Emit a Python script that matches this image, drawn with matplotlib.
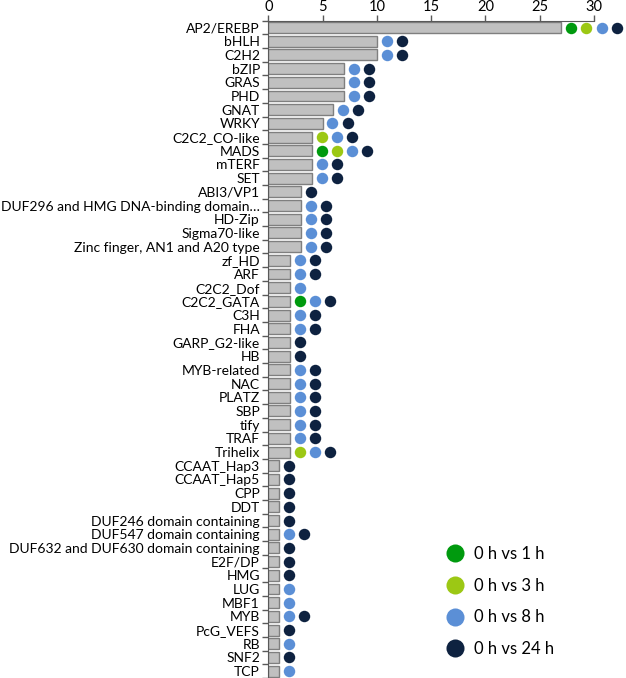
import numpy as np
import matplotlib
matplotlib.use("Agg")
import matplotlib.pyplot as plt
from matplotlib.lines import Line2D

plt.rcParams['font.family'] = ['Lato', 'DejaVu Sans']

# Transcription factor families and number of genes
families = [
    "AP2/EREBP", "bHLH", "C2H2", "bZIP", "GRAS", "PHD", "GNAT", "WRKY",
    "C2C2_CO-like", "MADS", "mTERF", "SET", "ABI3/VP1",
    "DUF296 and HMG DNA-binding domain\u2026", "HD-Zip", "Sigma70-like",
    "Zinc finger, AN1 and A20 type", "zf_HD", "ARF", "C2C2_Dof", "C2C2_GATA",
    "C3H", "FHA", "GARP_G2-like", "HB", "MYB-related", "NAC", "PLATZ", "SBP",
    "tify", "TRAF", "Trihelix", "CCAAT_Hap3", "CCAAT_Hap5", "CPP", "DDT",
    "DUF246 domain containing", "DUF547 domain containing",
    "DUF632 and DUF630 domain containing", "E2F/DP", "HMG", "LUG", "MBF1",
    "MYB", "PcG_VEFS", "RB", "SNF2", "TCP",
]
counts = [27, 10, 10, 7, 7, 7, 6, 5, 4, 4, 4, 4, 3, 3, 3, 3, 3,
          2, 2, 2, 2, 2, 2, 2, 2, 2, 2, 2, 2, 2, 2, 2,
          1, 1, 1, 1, 1, 1, 1, 1, 1, 1, 1, 1, 1, 1, 1, 1]

# presence of each family in the comparisons (1 = present)
vs_1h = [1, 0, 0, 0, 0, 0, 0, 0, 0, 1, 0, 0, 0, 0, 0, 0, 0,
         0, 0, 0, 1, 0, 0, 0, 0, 0, 0, 0, 0, 0, 0, 0,
         0, 0, 0, 0, 0, 0, 0, 0, 0, 0, 0, 0, 0, 0, 0, 0]
vs_3h = [1, 0, 0, 0, 0, 0, 0, 0, 1, 1, 0, 0, 0, 0, 0, 0, 0,
         0, 0, 0, 0, 0, 0, 0, 0, 0, 0, 0, 0, 0, 0, 1,
         0, 0, 0, 0, 0, 0, 0, 0, 0, 0, 0, 0, 0, 0, 0, 0]
vs_8h = [1, 1, 1, 1, 1, 1, 1, 1, 1, 1, 1, 1, 0, 1, 1, 1, 1,
         1, 1, 1, 1, 1, 1, 0, 0, 1, 1, 1, 1, 1, 1, 1,
         0, 0, 0, 0, 0, 1, 0, 0, 0, 1, 1, 1, 0, 1, 0, 1]
vs_24h = [1, 1, 1, 1, 1, 1, 1, 1, 1, 1, 1, 1, 1, 1, 1, 1, 1,
          1, 1, 0, 1, 1, 1, 1, 1, 1, 1, 1, 1, 1, 1, 1,
          1, 1, 1, 1, 1, 1, 1, 1, 1, 0, 0, 1, 1, 0, 1, 0]

series = [
    ("0 h vs 1 h", vs_1h, "#009a0e"),
    ("0 h vs 3 h", vs_3h, "#9cc814"),
    ("0 h vs 8 h", vs_8h, "#5b8fd6"),
    ("0 h vs 24 h", vs_24h, "#0e2240"),
]

fig = plt.figure(figsize=(6.26, 6.78), dpi=100)
ax = fig.add_axes([0.4286, 0.0, 0.5204, 0.9695])

y = np.arange(len(families))
ax.barh(y, counts, height=0.8, color="#c0c0c0", edgecolor="#7f7f7f", linewidth=1.0, zorder=2)

# dots placed one after another to the right of each bar
n_done = np.zeros(len(families))
for label, flags, color in series:
    flags = np.array(flags)
    idx = np.where(flags == 1)[0]
    xs = np.array(counts)[idx] + 0.9 + 1.4 * n_done[idx]
    ax.scatter(xs, y[idx], s=68, color=color, zorder=3, clip_on=False, linewidths=0)
    n_done[idx] += 1

ax.set_xlim(0, 30)
ax.set_ylim(len(families) - 0.5, -0.5)
ax.xaxis.tick_top()
ax.set_xticks([0, 5, 10, 15, 20, 25, 30])
ax.tick_params(axis="x", direction="out", length=4, width=1, colors="#595959",
               labelcolor="black", labelsize=10.5, pad=1)
ax.set_yticks(y)
ax.set_yticklabels(families, fontsize=10)
ax.set_yticks(np.arange(len(families) + 1) - 0.5, minor=True)
ax.tick_params(axis="y", which="major", length=0, pad=6)
ax.tick_params(axis="y", which="minor", length=4, width=1, color="#595959")

for side in ["right", "bottom"]:
    ax.spines[side].set_visible(False)
ax.spines["left"].set_color("#595959")
ax.spines["top"].set_color("#595959")

handles = [Line2D([], [], marker="o", linestyle="none", markersize=13,
                  markerfacecolor=c, markeredgewidth=0) for _, _, c in series]
fig.legend(handles, [s[0] for s in series], loc="upper left",
           bbox_to_anchor=(0.69, 0.205), frameon=False, fontsize=12,
           handletextpad=0.15, labelspacing=0.95, borderaxespad=0)

fig.savefig("out.png", dpi=100)
